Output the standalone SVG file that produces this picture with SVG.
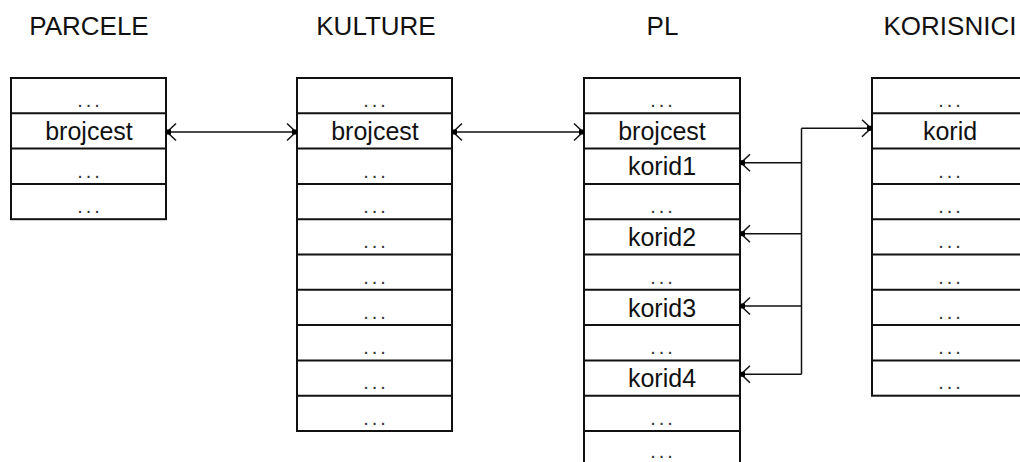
<svg xmlns="http://www.w3.org/2000/svg" width="1020" height="462" viewBox="0 0 1020 462">
<style>
.t{font-family:"Liberation Sans",Arial,sans-serif;font-size:26px;fill:#111;text-anchor:middle}
.c{font-family:"Liberation Sans",Arial,sans-serif;font-size:25px;fill:#111;text-anchor:middle}
.d{font-family:"Liberation Sans",Arial,sans-serif;font-size:20px;fill:#333;text-anchor:middle;letter-spacing:3px}
.box{fill:#fff;stroke:#111;stroke-width:2}
.row{stroke:#111;stroke-width:2}
.con{fill:none;stroke:#111;stroke-width:1.5}
</style>
<defs>
<marker id="arr" markerUnits="userSpaceOnUse" markerWidth="16" markerHeight="22" viewBox="-13 -11 16 22" refX="0" refY="0" orient="auto-start-reverse" overflow="visible">
<path d="M-10,-8.5 L-1,0 L-10,8.5" fill="none" stroke="#111" stroke-width="1.5"/>
<rect x="-5" y="-2.5" width="5" height="5" fill="#000"/>
</marker>
</defs>
<rect width="1020" height="462" fill="#fff"/>

<g id="parcele">
<text class="t" x="89" y="35">PARCELE</text>
<rect class="box" x="11" y="78" width="155" height="141.2"/>
<line class="row" x1="11" x2="166" y1="113.3" y2="113.3"/>
<line class="row" x1="11" x2="166" y1="148.6" y2="148.6"/>
<line class="row" x1="11" x2="166" y1="183.9" y2="183.9"/>
<text class="d" x="90" y="107">...</text>
<text class="c" x="89" y="140">brojcest</text>
<text class="d" x="90" y="177.6">...</text>
<text class="d" x="90" y="212.9">...</text>
</g>

<g id="kulture">
<text class="t" x="376" y="35">KULTURE</text>
<rect class="box" x="297" y="78" width="155" height="353"/>
<line class="row" x1="297" x2="452" y1="113.3" y2="113.3"/>
<line class="row" x1="297" x2="452" y1="148.6" y2="148.6"/>
<line class="row" x1="297" x2="452" y1="183.9" y2="183.9"/>
<line class="row" x1="297" x2="452" y1="219.2" y2="219.2"/>
<line class="row" x1="297" x2="452" y1="254.5" y2="254.5"/>
<line class="row" x1="297" x2="452" y1="289.8" y2="289.8"/>
<line class="row" x1="297" x2="452" y1="325.1" y2="325.1"/>
<line class="row" x1="297" x2="452" y1="360.4" y2="360.4"/>
<line class="row" x1="297" x2="452" y1="395.7" y2="395.7"/>
<text class="d" x="376" y="107">...</text>
<text class="c" x="375" y="140">brojcest</text>
<text class="d" x="376" y="177.6">...</text>
<text class="d" x="376" y="212.9">...</text>
<text class="d" x="376" y="248.2">...</text>
<text class="d" x="376" y="283.5">...</text>
<text class="d" x="376" y="318.8">...</text>
<text class="d" x="376" y="354.1">...</text>
<text class="d" x="376" y="389.4">...</text>
<text class="d" x="376" y="424.7">...</text>
</g>

<g id="pl">
<text class="t" x="662.5" y="35">PL</text>
<rect class="box" x="584" y="78" width="156" height="388.3"/>
<line class="row" x1="584" x2="740" y1="113.3" y2="113.3"/>
<line class="row" x1="584" x2="740" y1="148.6" y2="148.6"/>
<line class="row" x1="584" x2="740" y1="183.9" y2="183.9"/>
<line class="row" x1="584" x2="740" y1="219.2" y2="219.2"/>
<line class="row" x1="584" x2="740" y1="254.5" y2="254.5"/>
<line class="row" x1="584" x2="740" y1="289.8" y2="289.8"/>
<line class="row" x1="584" x2="740" y1="325.1" y2="325.1"/>
<line class="row" x1="584" x2="740" y1="360.4" y2="360.4"/>
<line class="row" x1="584" x2="740" y1="395.7" y2="395.7"/>
<line class="row" x1="584" x2="740" y1="431" y2="431"/>
<text class="d" x="663" y="107">...</text>
<text class="c" x="662" y="140">brojcest</text>
<text class="c" x="662" y="175.3">korid1</text>
<text class="d" x="663" y="212.9">...</text>
<text class="c" x="662" y="245.9">korid2</text>
<text class="d" x="663" y="283.5">...</text>
<text class="c" x="662" y="316.5">korid3</text>
<text class="d" x="663" y="354.1">...</text>
<text class="c" x="662" y="387.1">korid4</text>
<text class="d" x="663" y="424.7">...</text>
<text class="d" x="663" y="457.5">...</text>
</g>

<g id="korisnici">
<text class="t" x="950" y="35">KORISNICI</text>
<rect class="box" x="872" y="78" width="156" height="317.7"/>
<line class="row" x1="872" x2="1028" y1="113.3" y2="113.3"/>
<line class="row" x1="872" x2="1028" y1="148.6" y2="148.6"/>
<line class="row" x1="872" x2="1028" y1="183.9" y2="183.9"/>
<line class="row" x1="872" x2="1028" y1="219.2" y2="219.2"/>
<line class="row" x1="872" x2="1028" y1="254.5" y2="254.5"/>
<line class="row" x1="872" x2="1028" y1="289.8" y2="289.8"/>
<line class="row" x1="872" x2="1028" y1="325.1" y2="325.1"/>
<line class="row" x1="872" x2="1028" y1="360.4" y2="360.4"/>
<text class="d" x="951" y="107">...</text>
<text class="c" x="950" y="140">korid</text>
<text class="d" x="951" y="177.6">...</text>
<text class="d" x="951" y="212.9">...</text>
<text class="d" x="951" y="248.2">...</text>
<text class="d" x="951" y="283.5">...</text>
<text class="d" x="951" y="318.8">...</text>
<text class="d" x="951" y="354.1">...</text>
<text class="d" x="951" y="389.4">...</text>
</g>

<g id="connectors">
<path class="con" d="M166,132 H297" marker-start="url(#arr)" marker-end="url(#arr)"/>
<path class="con" d="M452,132 H584" marker-start="url(#arr)" marker-end="url(#arr)"/>
<path class="con" d="M801.5,128.3 H872" marker-end="url(#arr)"/>
<path class="con" d="M801.5,128.3 V374.3"/>
<path class="con" d="M801.5,162.7 H740" marker-end="url(#arr)"/>
<path class="con" d="M801.5,233.7 H740" marker-end="url(#arr)"/>
<path class="con" d="M801.5,306 H740" marker-end="url(#arr)"/>
<path class="con" d="M801.5,374.3 H740" marker-end="url(#arr)"/>
</g>
</svg>
